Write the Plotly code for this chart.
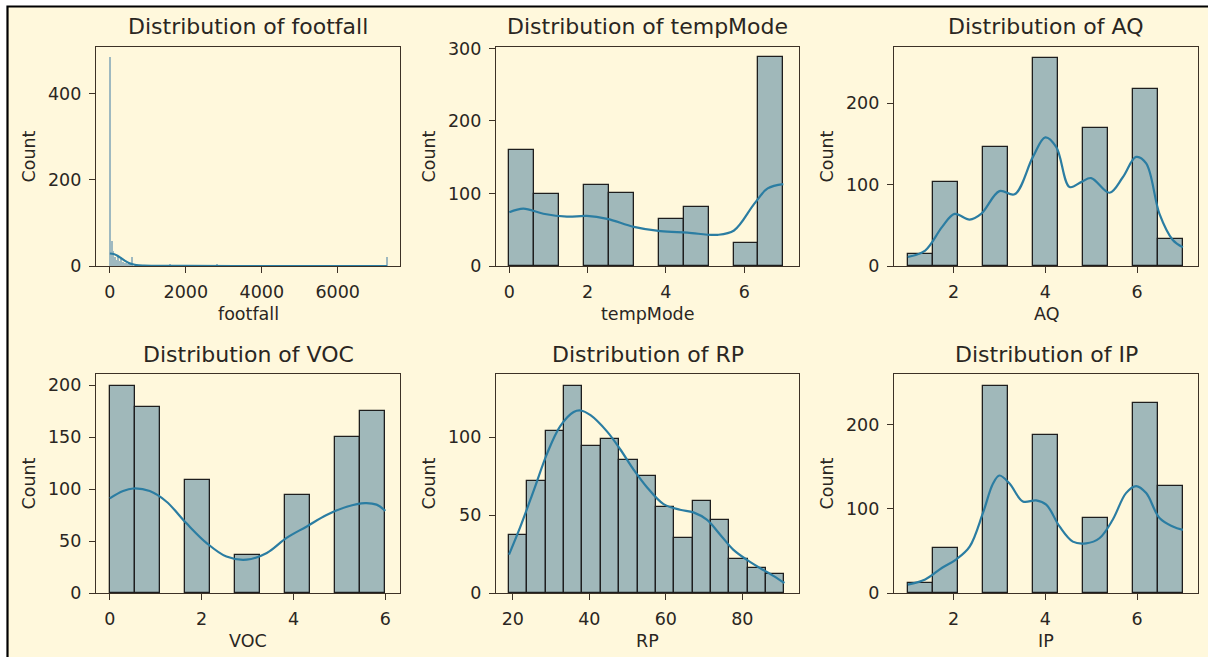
import plotly.graph_objects as go

W, H = 1208, 657

# ---------------- data ----------------
footfall_bin_left = [0, 40, 80, 120, 160, 200, 240, 280, 320, 360, 400, 440, 480, 520, 560, 1560, 2800, 7280]
footfall_counts = [485, 58, 35, 20, 14, 22, 12, 16, 10, 8, 6, 5, 4, 3, 20, 3, 5, 20]
footfall_bin_width = 40
footfall_kde_x = [0, 100, 200, 300, 400, 500, 600, 700, 900, 1200, 2000, 4000, 6000, 7300]
footfall_kde_y = [29, 28, 24, 18, 12, 7, 4, 2, 1, 0.5, 0.2, 0, 0, 0]

tempMode_edges = [0, 0.636, 1.273, 1.909, 2.545, 3.182, 3.818, 4.455, 5.091, 5.727, 6.364, 7.0]
tempMode_counts = [160, 99, 0, 112, 101, 0, 65, 82, 0, 32, 288]
tempMode_kde_x = [0, 0.36, 0.87, 1.47, 1.98, 2.5, 3.18, 3.86, 4.55, 5.32, 5.74, 6.26, 6.6, 7.0]
tempMode_kde_y = [74, 79, 72, 68, 69, 65, 54, 48, 46, 43, 49, 86, 107, 113]

AQ_edges = [1, 1.545, 2.091, 2.636, 3.182, 3.727, 4.273, 4.818, 5.364, 5.909, 6.455, 7.0]
AQ_counts = [15, 103, 0, 146, 0, 256, 0, 170, 0, 217, 33]
AQ_kde_x = [1.0, 1.38, 1.75, 2.02, 2.35, 2.6, 3.0, 3.33, 3.73, 4.0, 4.24, 4.53, 4.78, 5.0, 5.4, 5.69, 5.98, 6.2, 6.49, 6.78, 7.0]
AQ_kde_y = [11, 19, 48, 64, 57, 64, 92, 88, 134, 158, 146, 97, 103, 108, 90, 109, 134, 126, 64, 32, 23]

VOC_edges = [0, 0.545, 1.091, 1.636, 2.182, 2.727, 3.273, 3.818, 4.364, 4.909, 5.455, 6.0]
VOC_counts = [199, 179, 0, 109, 0, 37, 0, 94, 0, 150, 175]
VOC_kde_x = [0, 0.29, 0.51, 0.87, 1.23, 1.67, 2.11, 2.54, 2.98, 3.42, 3.85, 4.29, 4.72, 5.16, 5.56, 5.81, 6.0]
VOC_kde_y = [91, 98, 100.5, 98, 88, 67, 48, 35, 32, 38.5, 53, 64, 75, 83, 86.5, 85, 79]

RP_edges = [19, 23.8, 28.6, 33.4, 38.2, 43.0, 47.8, 52.6, 57.4, 62.2, 67.0, 71.8, 76.6, 81.4, 86.2, 91.0]
RP_counts = [37, 72, 104, 133, 94, 99, 85, 75, 55, 35, 59, 47, 22, 16, 12]
RP_kde_x = [19, 22, 25.5, 29, 32.4, 35.9, 37.7, 40.3, 44.6, 48.1, 51.6, 55.0, 59.4, 63.7, 67.2, 70.7, 74.2, 77.6, 81.1, 84.6, 88.1, 91.0]
RP_kde_y = [24.6, 42.7, 66, 89.7, 107, 116, 117, 114, 103.6, 92, 79, 68, 57, 53.4, 51.7, 47, 37.4, 27.8, 21.4, 16, 11, 6.4]

IP_edges = [1, 1.545, 2.091, 2.636, 3.182, 3.727, 4.273, 4.818, 5.364, 5.909, 6.455, 7.0]
IP_counts = [12, 53, 0, 246, 0, 187, 0, 89, 0, 225, 127]
IP_kde_x = [1.0, 1.38, 1.75, 2.06, 2.35, 2.64, 2.86, 3.0, 3.22, 3.51, 3.8, 4.02, 4.31, 4.6, 4.89, 5.18, 5.47, 5.76, 5.98, 6.2, 6.49, 6.78, 7.0]
IP_kde_y = [10, 16, 30, 40, 55, 95, 130, 139.5, 130, 108.7, 110, 105, 79, 61, 59, 65, 87, 118.6, 127, 118.6, 89, 79, 75]

panels = [
    dict(name="footfall", kind="fixed", left=footfall_bin_left, counts=footfall_counts, bw=footfall_bin_width,
         kx=footfall_kde_x, ky=footfall_kde_y, xr=[-365, 7640], yr=[0, 509],
         xt=[0, 2000, 4000, 6000], yt=[0, 200, 400]),
    dict(name="tempMode", edges=tempMode_edges, counts=tempMode_counts, kx=tempMode_kde_x, ky=tempMode_kde_y,
         xr=[-0.34, 7.4], yr=[0, 302], xt=[0, 2, 4, 6], yt=[0, 100, 200, 300]),
    dict(name="AQ", edges=AQ_edges, counts=AQ_counts, kx=AQ_kde_x, ky=AQ_kde_y,
         xr=[0.7, 7.33], yr=[0, 269], xt=[2, 4, 6], yt=[0, 100, 200]),
    dict(name="VOC", edges=VOC_edges, counts=VOC_counts, kx=VOC_kde_x, ky=VOC_kde_y,
         xr=[-0.3, 6.32], yr=[0, 210.6], xt=[0, 2, 4, 6], yt=[0, 50, 100, 150, 200]),
    dict(name="RP", edges=RP_edges, counts=RP_counts, kx=RP_kde_x, ky=RP_kde_y,
         xr=[15.6, 94.8], yr=[0, 140.4], xt=[20, 40, 60, 80], yt=[0, 50, 100]),
    dict(name="IP", edges=IP_edges, counts=IP_counts, kx=IP_kde_x, ky=IP_kde_y,
         xr=[0.7, 7.33], yr=[0, 260], xt=[2, 4, 6], yt=[0, 100, 200]),
]

# ---------------- style ----------------
BG = "#FFF8DC"
BAR = "#A0B8BA"
EDGE = "#1e1e1e"
KDE = "#2B7DA2"
SPINE = "#3d3226"
TXT = "#2a2622"
FONT = "DejaVu Sans"
TICK_SIZE = 17.5
LABEL_SIZE = 17.5
TITLE_SIZE = 22

col_px = [(96, 400), (496, 799), (894, 1198)]
row_px = [(47, 266), (374, 593)]

fig = go.Figure()
annotations = []

for i, p in enumerate(panels):
    r, c = divmod(i, 3)
    xa = "x" if i == 0 else f"x{i+1}"
    ya = "y" if i == 0 else f"y{i+1}"
    if p.get("kind") == "fixed":
        centers = [l + p["bw"] / 2 for l in p["left"]]
        widths = [p["bw"]] * len(p["left"])
        counts = p["counts"]
        line_w = 0
        color = "#9FB9C0"
    else:
        e = p["edges"]
        centers, widths, counts = [], [], []
        for k, v in enumerate(p["counts"]):
            if v > 0:
                centers.append((e[k] + e[k + 1]) / 2)
                widths.append(e[k + 1] - e[k])
                counts.append(v)
        line_w = 1.3
        color = BAR
    fig.add_trace(go.Bar(x=centers, y=counts, width=widths, xaxis=xa, yaxis=ya,
                         marker=dict(color=color, line=dict(color=EDGE, width=line_w)),
                         showlegend=False, hoverinfo="x+y"))
    fig.add_trace(go.Scatter(x=p["kx"], y=p["ky"], mode="lines", xaxis=xa, yaxis=ya,
                             line=dict(color=KDE, width=2.2, shape="spline", smoothing=1.0),
                             showlegend=False))

    x0, x1 = col_px[c]
    yt0, yb0 = row_px[r]
    axis_common = dict(showline=True, mirror=True, linecolor=SPINE, linewidth=1.3,
                       ticks="outside", ticklen=6, tickwidth=1.3, tickcolor=SPINE,
                       showgrid=False, zeroline=False, automargin=False,
                       tickfont=dict(family=FONT, size=TICK_SIZE, color=TXT))
    fig.layout[("xaxis" if i == 0 else f"xaxis{i+1}")] = dict(
        domain=[x0 / W, x1 / W], anchor=ya, range=p["xr"], tickvals=p["xt"],
        ticklabelstandoff=4, **axis_common)
    fig.layout[("yaxis" if i == 0 else f"yaxis{i+1}")] = dict(
        domain=[1 - yb0 / H, 1 - yt0 / H], anchor=xa, range=p["yr"], tickvals=p["yt"],
        ticklabelstandoff=4, **axis_common)

    # title
    annotations.append(dict(text=f"Distribution of {p['name']}", x=(x0 + x1) / 2 / W,
                            y=1 - (yt0 - 20) / H, xref="paper", yref="paper",
                            xanchor="center", yanchor="middle", showarrow=False,
                            font=dict(family=FONT, size=TITLE_SIZE, color=TXT)))
    # x label
    annotations.append(dict(text=p["name"], x=(x0 + x1) / 2 / W,
                            y=1 - (yb0 + 48) / H, xref="paper", yref="paper",
                            xanchor="center", yanchor="middle", showarrow=False,
                            font=dict(family=FONT, size=LABEL_SIZE, color=TXT)))
    # y label
    annotations.append(dict(text="Count", x=(x0 - 68) / W,
                            y=1 - (yt0 + yb0) / 2 / H, xref="paper", yref="paper",
                            xanchor="center", yanchor="middle", showarrow=False, textangle=-90,
                            font=dict(family=FONT, size=LABEL_SIZE, color=TXT)))

fig.update_layout(
    width=W, height=H,
    margin=dict(l=0, r=0, t=0, b=0, autoexpand=False),
    paper_bgcolor="white", plot_bgcolor=BG,
    bargap=0, barmode="overlay",
    annotations=annotations,
    shapes=[dict(type="rect", xref="paper", yref="paper", x0=7.5 / W, x1=1.05,
                 y0=-0.05, y1=1 - 6.5 / H, fillcolor=BG,
                 line=dict(color="black", width=2.2), layer="below")],
    font=dict(family=FONT, color=TXT),
)

# pin the figure to the page's top-left corner (remove default page margins)
post = ("document.body.style.margin='0px';"
        "var gd=document.getElementById('{plot_id}');"
        "gd.style.position='absolute';gd.style.left='0px';gd.style.top='0px';")

fig.write_html("out.html", post_script=post, config={"displayModeBar": False})
